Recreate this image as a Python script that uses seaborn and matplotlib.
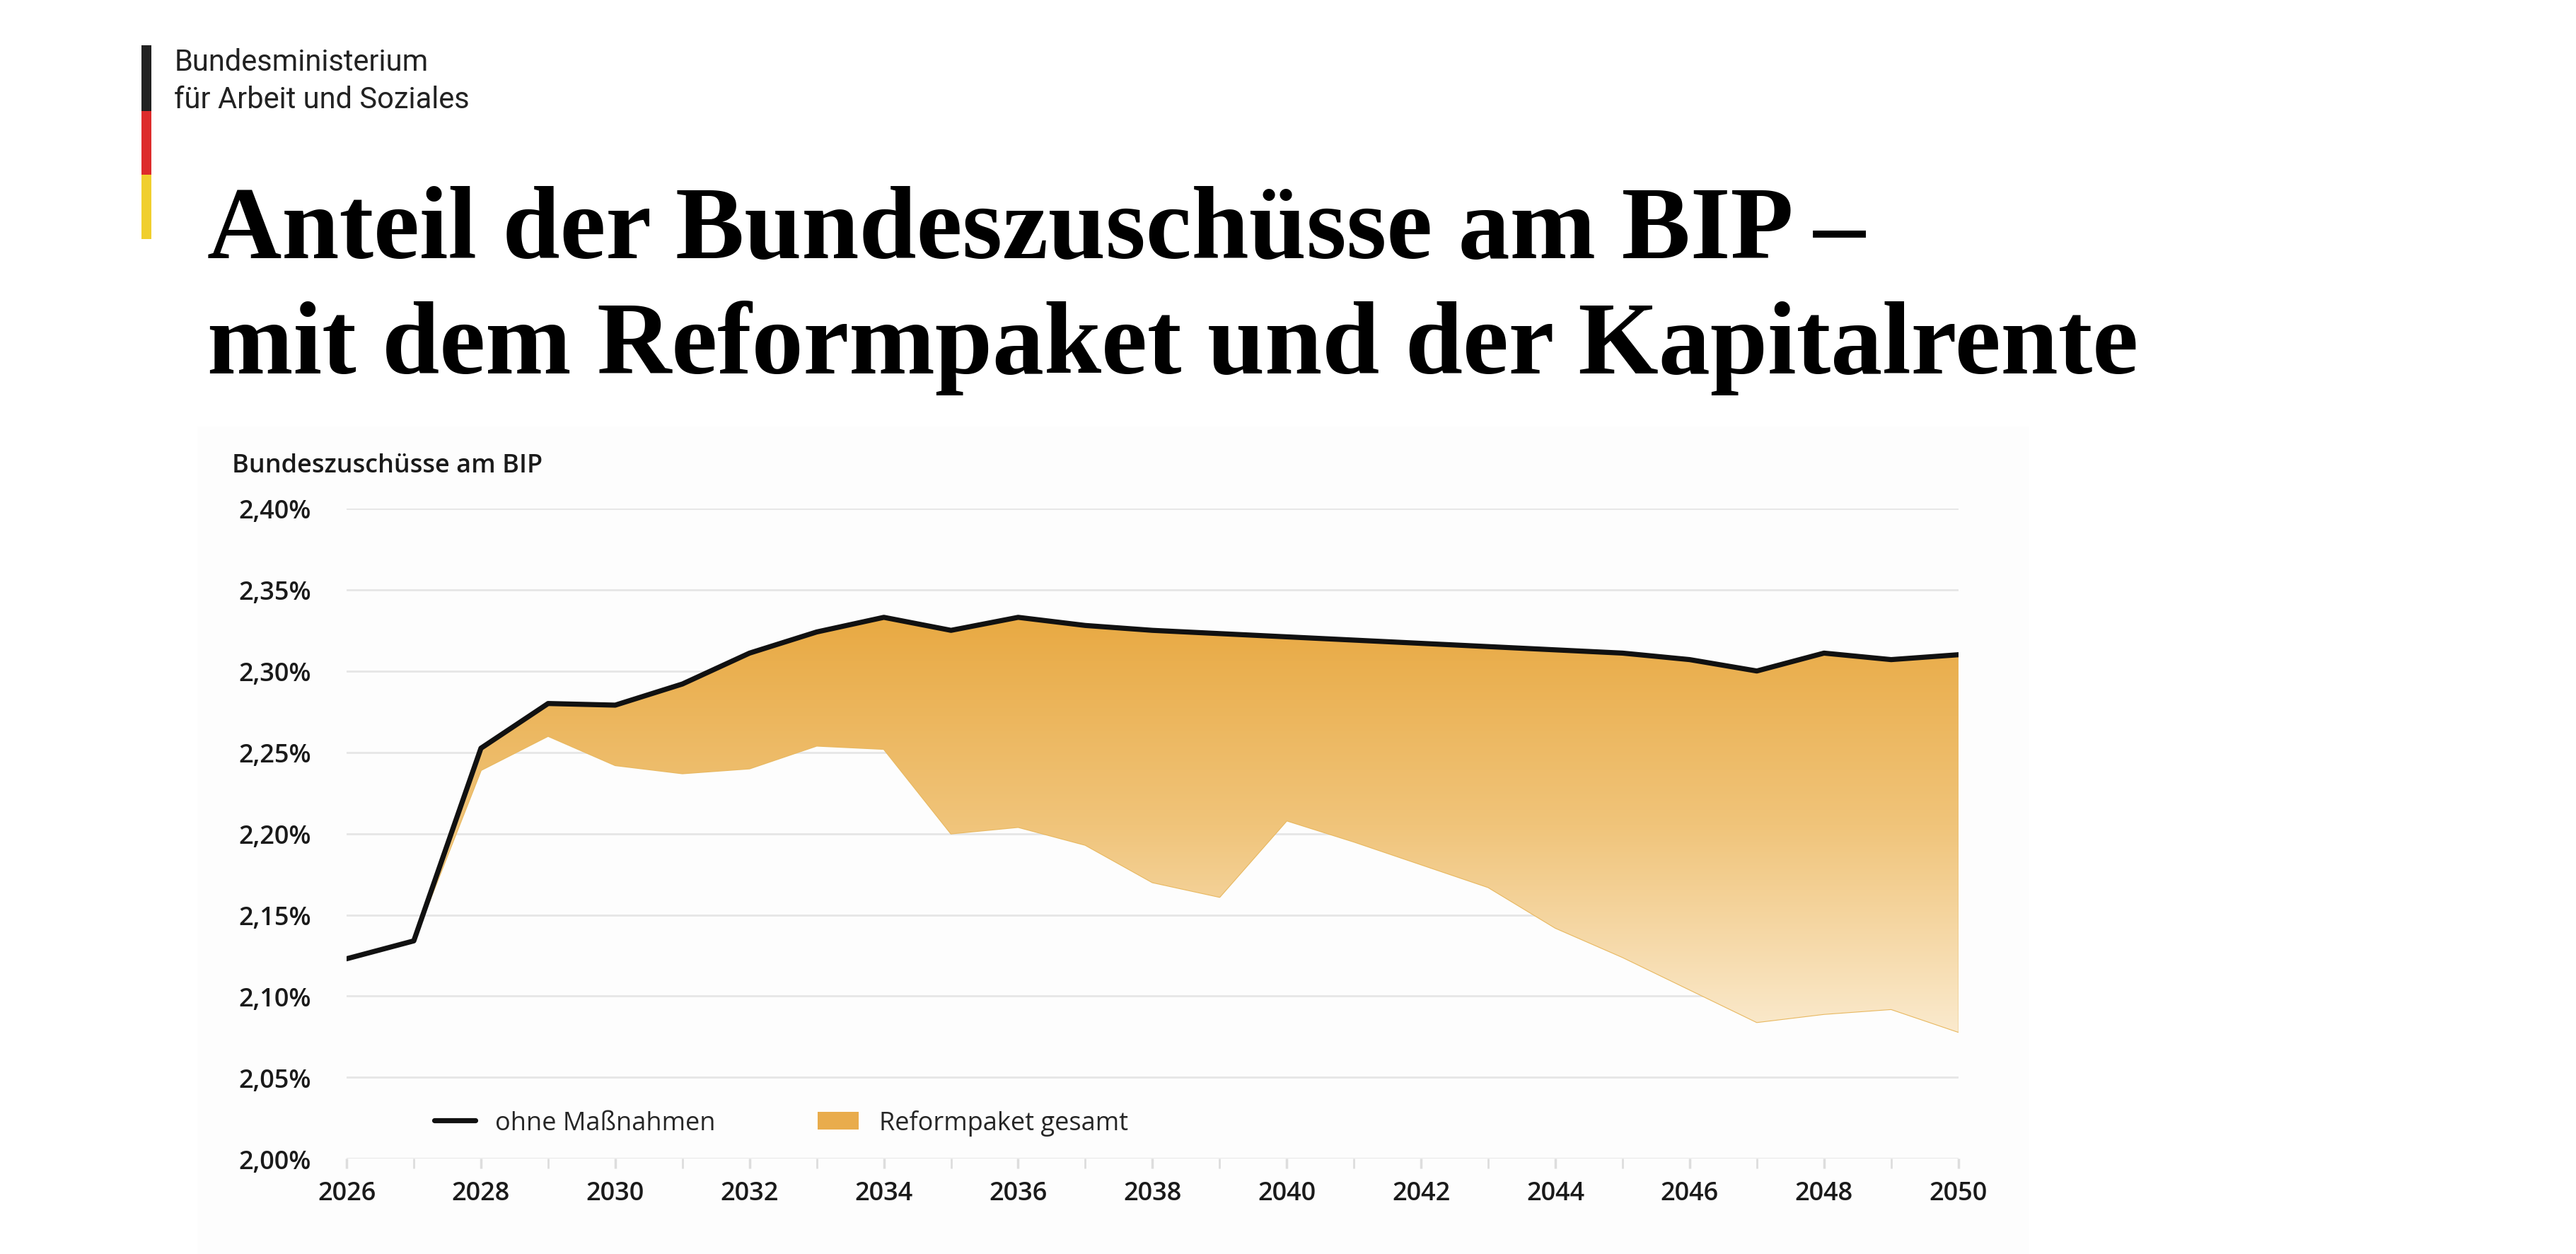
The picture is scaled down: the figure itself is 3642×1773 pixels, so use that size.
import numpy as np
import pandas as pd
import matplotlib
matplotlib.use("Agg")
import matplotlib.pyplot as plt
import seaborn as sns
from matplotlib.colors import LinearSegmentedColormap
from matplotlib.patches import Patch, Rectangle
from matplotlib.lines import Line2D

years = list(range(2026, 2051))
ohne_massnahmen = [2.123, 2.134, 2.2525, 2.280, 2.279, 2.292, 2.311, 2.324, 2.333, 2.325,
                   2.333, 2.328, 2.325, 2.323, 2.321, 2.319, 2.317, 2.315, 2.313, 2.311,
                   2.307, 2.300, 2.311, 2.307, 2.310]
reformpaket = [2.123, 2.134, 2.239, 2.260, 2.242, 2.237, 2.240, 2.254, 2.252, 2.200,
               2.204, 2.193, 2.170, 2.161, 2.208, 2.195, 2.181, 2.167, 2.142, 2.124,
               2.104, 2.084, 2.089, 2.092, 2.078]
yticks = [2.00, 2.05, 2.10, 2.15, 2.20, 2.25, 2.30, 2.35, 2.40]
xticks = list(range(2026, 2051, 2))

df = pd.DataFrame({"Jahr": years, "ohne": ohne_massnahmen, "reform": reformpaket})

sns.set_theme(style="white")
plt.rcParams["font.family"] = ["Open Sans", "DejaVu Sans"]

fig = plt.figure(figsize=(18.21, 8.87), dpi=200)
fig.patch.set_facecolor("white")

fig.add_artist(Rectangle((120/1568, 0), (1235-120)/1568, 1-260/764, transform=fig.transFigure,
                         facecolor="#fdfdfd", edgecolor="none", zorder=0))

ax = fig.add_axes([211/1568, 1-706/764, (1192-211)/1568, (706-310)/764])
ax.set_facecolor("none")

poly = ax.fill_between(df["Jahr"], df["reform"], df["ohne"], facecolor="none", edgecolor="#e8b860", lw=0.8)
cmap = LinearSegmentedColormap.from_list("g", ["#fbecd2", "#f0c47a", "#e8a840"])
grad = np.linspace(0, 1, 256).reshape(-1, 1)
im = ax.imshow(grad, extent=[2026, 2050, 2.07, 2.34], origin="lower", aspect="auto", cmap=cmap, zorder=1)
im.set_clip_path(poly.get_paths()[0], transform=ax.transData)

sns.lineplot(data=df, x="Jahr", y="ohne", ax=ax, color="#111111", lw=2.6, zorder=3)

ax.set_xlim(2026, 2050)
ax.set_ylim(2.0, 2.4)
ax.set_xticks(xticks)
ax.set_xticks(years, minor=True)
ax.set_yticks(yticks)
ax.set_yticklabels([f"{v:.2f}%".replace(".", ",") for v in yticks])
ax.tick_params(axis="both", labelsize=13, colors="#1a1a1a", length=0)
ax.tick_params(axis="x", which="both", length=5, color="#dddddd", bottom=True, pad=6)
ax.tick_params(axis="y", pad=18)
for lab in ax.get_yticklabels() + ax.get_xticklabels():
    lab.set_fontweight("semibold")
ax.grid(axis="y", color="#e6e6e6", lw=1)
ax.set_axisbelow(True)
for s in ax.spines.values():
    s.set_visible(False)
ax.set_xlabel("")
ax.set_ylabel("")

fig.text(141/1568, 1-284/764, "Bundeszuschüsse am BIP", fontsize=13, color="#1a1a1a",
         va="center", ha="left", fontweight="semibold")

handles = [Line2D([0], [0], color="#111111", lw=2.6),
           Patch(facecolor="#e9ac4c", edgecolor="none")]
leg = ax.legend(handles, ["ohne Maßnahmen", "Reformpaket gesamt"], loc="lower left",
                bbox_to_anchor=(0.04, 0.0), ncol=2, frameon=False, fontsize=13,
                handlelength=1.6, columnspacing=4, handletextpad=0.8)
for t in leg.get_texts():
    t.set_fontweight("medium")

fig.text(126/1568, 1-142/764, "Anteil der Bundeszuschüsse am BIP –", fontsize=52.5,
         family="Liberation Serif", fontweight="bold", va="center", ha="left", color="black")
fig.text(126/1568, 1-212/764, "mit dem Reformpaket und der Kapitalrente", fontsize=52.5,
         family="Liberation Serif", fontweight="bold", va="center", ha="left", color="black")

for (y0, y1, c) in [(28, 68, "#222222"), (68, 107, "#dd2c2c"), (107, 146, "#f0cf2e")]:
    fig.add_artist(Rectangle((86/1568, 1-y1/764), 6/1568, (y1-y0)/764,
                             transform=fig.transFigure, facecolor=c, edgecolor="none"))
fig.text(106/1568, 1-38/764, "Bundesministerium", fontsize=15, family="Roboto",
         va="center", ha="left", color="#222222")
fig.text(106/1568, 1-61/764, "für Arbeit und Soziales", fontsize=15, family="Roboto",
         va="center", ha="left", color="#222222")

fig.savefig("out.png", dpi=200, facecolor="white")
